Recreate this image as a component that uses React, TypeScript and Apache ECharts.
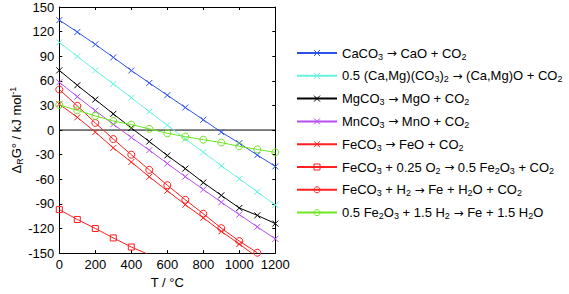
import React, { useEffect, useRef } from "react";
import * as echarts from "echarts";

const temps = [0, 100, 200, 300, 400, 500, 600, 700, 800, 900, 1000, 1100, 1200];
const caco3 = [134, 119.5, 104.5, 88.6, 72.6, 57.4, 42.5, 27.5, 12.5, -2.5, -16, -30.5, -44.3];
const dolomite = [106.8, 89.8, 72.8, 56.2, 39.5, 22.5, 5.9, -10.7, -27, -43.6, -59.4, -75.3, -91.3];
const mgco3 = [72.8, 54.6, 37.2, 19.7, 2.5, -14, -31, -47, -64, -79.6, -95, -104, -114];
const mnco3 = [58.2, 40.7, 23.7, 7, -9, -24.5, -40.8, -56.8, -72.5, -88, -103, -118, -132.7];
const feco3 = [31.5, 15.5, -2.5, -21.8, -39, -57, -74, -91, -107, -123.5, -139, -155];
const feco3O2 = [-97, -109, -120, -131.5, -142.6, -152];
const feco3H2 = [49.4, 29.5, 8.7, -11, -30, -48.5, -67.2, -85, -102, -119.6, -135.4, -149.5];
const fe2o3H2 = [30.6, 24, 17.2, 11, 6.7, 1.5, -4, -8, -11.7, -15.3, -19.8, -23.6, -27.2];
const zeroT = [0, 1200];
const zeroV = [0, 0];

const seriesNames = [
  "CaCO3 -> CaO + CO2",
  "0.5 (Ca,Mg)(CO3)2 -> (Ca,Mg)O + CO2",
  "MgCO3 -> MgO + CO2",
  "MnCO3 -> MnO + CO2",
  "FeCO3 -> FeO + CO2",
  "FeCO3 + 0.25 O2 -> 0.5 Fe2O3 + CO2",
  "FeCO3 + H2 -> Fe + H2O + CO2",
  "0.5 Fe2O3 + 1.5 H2 -> Fe + 1.5 H2O",
];
const A = "{a|\u2192}";
const legendLabels = [
  `CaCO{s|3} ${A} CaO + CO{s|2}`,
  `0.5 (Ca,Mg)(CO{s|3}){s|2} ${A} (Ca,Mg)O + CO{s|2}`,
  `MgCO{s|3} ${A} MgO + CO{s|2}`,
  `MnCO{s|3} ${A} MnO + CO{s|2}`,
  `FeCO{s|3} ${A} FeO + CO{s|2}`,
  `FeCO{s|3} + 0.25 O{s|2} ${A} 0.5 Fe{s|2}O{s|3} + CO{s|2}`,
  `FeCO{s|3} + H{s|2} ${A} Fe + H{s|2}O + CO{s|2}`,
  `0.5 Fe{s|2}O{s|3} + 1.5 H{s|2} ${A} Fe + 1.5 H{s|2}O`,
];
const seriesValues = [caco3, dolomite, mgco3, mnco3, feco3, feco3O2, feco3H2, fe2o3H2];
const colors = ["#2d50e8", "#66f2e0", "#000000", "#b64ff0", "#ff1f1f", "#ff1f1f", "#ff1f1f", "#6fe620"];
const XMARK = "path://M0,0L10,10M10,0L0,10";
const markers = [XMARK, XMARK, XMARK, XMARK, XMARK, "rect", "circle", "circle"];
const markerSizes = [6, 6, 6, 6, 6, 6, 7, 7];

const FONT = "Liberation Sans, Arial, sans-serif";

export default function App() {
  const ref = useRef<HTMLDivElement>(null);
  useEffect(() => {
    if (!ref.current) return;
    const chart = echarts.init(ref.current, null, { renderer: "svg" });
    const series: any[] = [
      {
        name: "zero",
        type: "line",
        data: zeroT.map((t, i) => [t, zeroV[i]]),
        symbol: "none",
        lineStyle: { color: "#000", width: 1 },
        itemStyle: { color: "#000" },
        silent: true,
        z: 1,
      },
    ];
    seriesNames.forEach((name, k) => {
      series.push({
        name,
        type: "line",
        data: seriesValues[k].map((v, i) => [temps[i], v]),
        symbol: markers[k],
        symbolSize: markerSizes[k],
        showAllSymbol: true,
        clip: true,
        lineStyle: { color: colors[k], width: 1 },
        itemStyle: { color: "transparent", borderColor: colors[k], borderWidth: 1 },
        z: 2 + k,
      });
    });
    const axisCommon = {
      axisLine: { show: true, onZero: false, lineStyle: { color: "#000", width: 1 } },
      axisTick: { show: true, inside: true, length: 3, lineStyle: { color: "#000" } },
      splitLine: { show: false },
    };
    chart.setOption({
      animation: false,
      backgroundColor: "#fff",
      textStyle: { fontFamily: FONT },
      grid: { left: 59.3, right: 293.7, top: 7, bottom: 33.5, containLabel: false },
      legend: {
        data: seriesNames,
        orient: "vertical",
        left: 296,
        top: 45,
        padding: 0,
        itemWidth: 40,
        itemHeight: 7.5,
        itemGap: 6.8,
        selectedMode: false,
        itemStyle: { color: "transparent", borderWidth: 1 },
        formatter: (name: string) => legendLabels[seriesNames.indexOf(name)],
        textStyle: {
          fontFamily: FONT,
          fontSize: 13,
          lineHeight: 16,
          color: "#000",
          rich: {
            s: { fontFamily: FONT, fontSize: 9, lineHeight: 6, verticalAlign: "bottom", color: "#000" },
            a: { fontFamily: "DejaVu Sans", fontSize: 12, lineHeight: 16, color: "#000" },
          },
        },
      },
      xAxis: [
        {
          type: "value",
          min: 0,
          max: 1200,
          interval: 200,
          position: "bottom",
          name: "T / \u00b0C",
          nameLocation: "middle",
          nameGap: 18,
          nameTextStyle: { fontFamily: FONT, fontSize: 13, color: "#000" },
          axisLabel: {
            fontFamily: FONT,
            fontSize: 13,
            color: "#000",
            margin: 5,
            formatter: (v: number) => String(v),
          },
          ...axisCommon,
        },
        {
          type: "value",
          min: 0,
          max: 1200,
          interval: 200,
          position: "top",
          axisLabel: { show: false },
          ...axisCommon,
        },
      ],
      yAxis: [
        {
          type: "value",
          min: -150,
          max: 150,
          interval: 30,
          position: "left",
          name: "\u0394{s|R}G\u00b0 / kJ mol{p|-1}",
          nameLocation: "middle",
          nameRotate: 90,
          nameGap: 33,
          nameTextStyle: {
            fontFamily: FONT,
            fontSize: 13,
            lineHeight: 16,
            color: "#000",
            rich: {
              s: { fontFamily: FONT, fontSize: 9, lineHeight: 6, verticalAlign: "bottom", color: "#000" },
              p: { fontFamily: FONT, fontSize: 9, lineHeight: 6, verticalAlign: "top", color: "#000" },
            },
          },
          axisLabel: { fontFamily: FONT, fontSize: 13, color: "#000", margin: 5 },
          ...axisCommon,
        },
        {
          type: "value",
          min: -150,
          max: 150,
          interval: 30,
          position: "right",
          axisLabel: { show: false },
          ...axisCommon,
        },
      ],
      series,
    });
    return () => chart.dispose();
  }, []);
  return (
    <div
      ref={ref}
      style={{ position: "fixed", left: 0, top: 0, width: 569, height: 294, background: "#fff" }}
    />
  );
}
